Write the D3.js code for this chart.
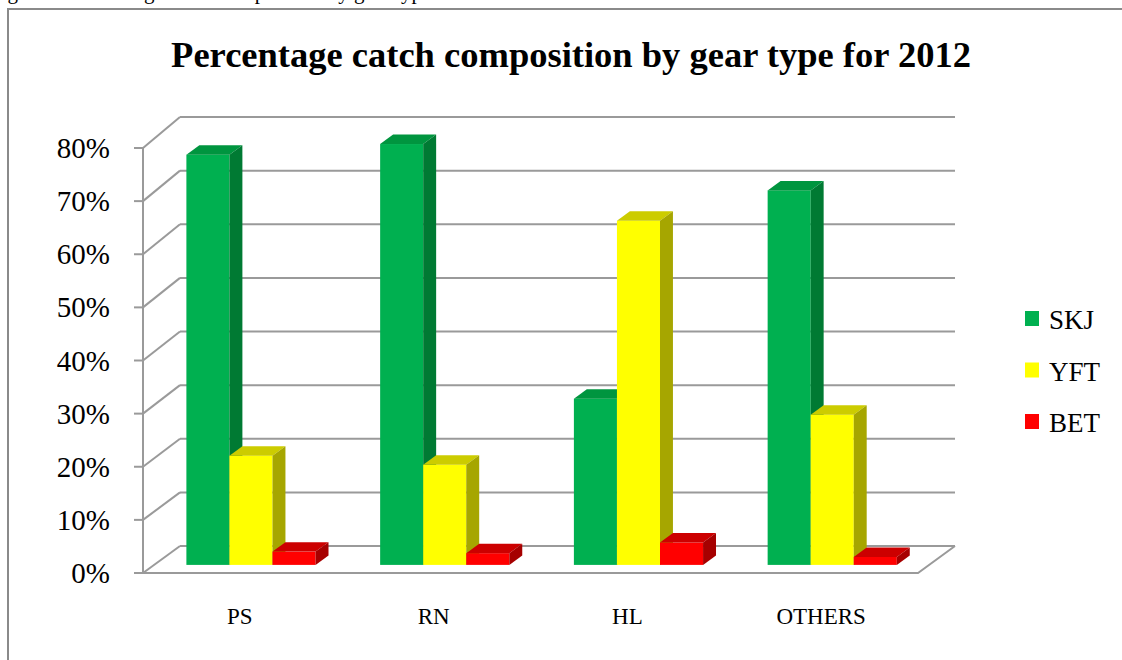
<!DOCTYPE html>
<html>
<head>
<meta charset="utf-8">
<script src="https://cdn.jsdelivr.net/npm/d3@7"></script>
<style>
  body { margin: 0; background: #fff; }
  svg { display: block; }
</style>
</head>
<body>
<div id="chart"></div>
<script>
// data
const categories = ["PS", "RN", "HL", "OTHERS"];
const seriesNames = ["SKJ", "YFT", "BET"];
const skj = [0.77, 0.79, 0.312, 0.703];
const yft = [0.205, 0.188, 0.646, 0.282];
const bet = [0.025, 0.022, 0.042, 0.015];
const yTicks = [0, 0.1, 0.2, 0.3, 0.4, 0.5, 0.6, 0.7, 0.8];
const titleText = "Percentage catch composition by gear type for 2012";

const seriesValues = [skj, yft, bet];
const faceColors = {
  SKJ: { front: "#00b050", top: "#00953f", side: "#007a33" },
  YFT: { front: "#ffff00", top: "#cccc00", side: "#a6a600" },
  BET: { front: "#ff0000", top: "#cc0000", side: "#a60000" }
};

const width = 1122, height = 660;
// 3D box geometry
const left = 143, right = 918;
const wallDx = 37;
const barZ = 0.3, barDepth = 0.35;
const serif = "'Liberation Serif', 'Times New Roman', serif";

const svg = d3.select("#chart").append("svg")
  .attr("width", width)
  .attr("height", height);

// caption from the page above, cut off in the reference too
svg.append("text")
  .attr("x", -10).attr("y", -1)
  .style("font-family", serif)
  .style("font-size", "21px")
  .text("Figure 5: Percentage catch composition by gear type");

// outer frame
svg.append("rect")
  .attr("x", 8).attr("y", 9)
  .attr("width", 1130).attr("height", 670)
  .attr("fill", "none")
  .attr("stroke", "#8a8a8a")
  .attr("stroke-width", 2);

svg.append("text")
  .attr("x", 571).attr("y", 67)
  .attr("text-anchor", "middle")
  .style("font-family", serif)
  .style("font-weight", "bold")
  .style("font-size", "36.5px")
  .text(titleText);

const yFront = d3.scaleLinear().domain([0, 0.8]).range([573, 148]);
const yBack = d3.scaleLinear().domain([0, 0.8]).range([546, 117]);
const yAt = (v, z) => yFront(v) + z * (yBack(v) - yFront(v));

const x0 = d3.scaleBand().domain(categories).range([left, right]);
const barW = x0.bandwidth() / 4.5;
const x1 = d3.scaleBand().domain(seriesNames).range([0, barW * 3]);

const grid = svg.append("g")
  .attr("stroke", "#9a9a9a")
  .attr("stroke-width", 2)
  .attr("fill", "none");

// back wall lines
grid.selectAll("line.back")
  .data(yTicks)
  .enter()
  .append("line")
  .attr("x1", left + wallDx)
  .attr("x2", right + wallDx)
  .attr("y1", d => yBack(d))
  .attr("y2", d => yBack(d));

// side wall lines
grid.selectAll("line.side")
  .data(yTicks)
  .enter()
  .append("line")
  .attr("x1", left)
  .attr("x2", left + wallDx)
  .attr("y1", d => yFront(d))
  .attr("y2", d => yBack(d));

// floor front and right edge
grid.append("path")
  .attr("d", `M${left},${yFront(0)}L${right},${yFront(0)}L${right + wallDx},${yBack(0)}`);

// vertical axis + ticks
grid.append("line")
  .attr("x1", left).attr("x2", left)
  .attr("y1", yFront(0.8)).attr("y2", yFront(0));

grid.selectAll("line.tick")
  .data(yTicks)
  .enter()
  .append("line")
  .attr("x1", left - 9).attr("x2", left)
  .attr("y1", d => yFront(d)).attr("y2", d => yFront(d));

svg.append("g")
  .selectAll("text")
  .data(yTicks)
  .enter()
  .append("text")
  .attr("x", 110)
  .attr("y", d => yFront(d) + 10)
  .attr("text-anchor", "end")
  .style("font-family", serif)
  .style("font-size", "29px")
  .text(d => d3.format(".0%")(d));

// category labels
svg.append("g")
  .selectAll("text")
  .data(categories)
  .enter()
  .append("text")
  .attr("x", d => x0(d) + x0.bandwidth() / 2)
  .attr("y", 624)
  .attr("text-anchor", "middle")
  .style("font-family", serif)
  .style("font-size", "23px")
  .text(d => d);

// bars
const shiftX = wallDx * barZ;
const depthDx = wallDx * barDepth;
const depthDy = (yBack(0) - yFront(0)) * barDepth;
const bars = [];
categories.forEach((c, i) => {
  seriesNames.forEach((s, j) => {
    bars.push({ cat: c, series: s, value: seriesValues[j][i] });
  });
});

const barG = svg.append("g")
  .selectAll("g")
  .data(bars)
  .enter()
  .append("g");

function geom(b) {
  const x = x0(b.cat) + barW * 0.75 + x1(b.series) + shiftX;
  const yT = yAt(b.value, barZ);
  const yB = yAt(0, barZ);
  return { x, yT, yB, w: x1.bandwidth() };
}

barG.append("rect")
  .attr("x", b => geom(b).x)
  .attr("y", b => geom(b).yT)
  .attr("width", b => geom(b).w)
  .attr("height", b => geom(b).yB - geom(b).yT)
  .attr("fill", b => faceColors[b.series].front);

barG.append("path")
  .attr("fill", b => faceColors[b.series].top)
  .attr("d", b => {
    const g = geom(b);
    return `M${g.x},${g.yT}L${g.x + depthDx},${g.yT + depthDy}L${g.x + g.w + depthDx},${g.yT + depthDy}L${g.x + g.w},${g.yT}Z`;
  });

barG.append("path")
  .attr("fill", b => faceColors[b.series].side)
  .attr("d", b => {
    const g = geom(b);
    return `M${g.x + g.w},${g.yT}L${g.x + g.w + depthDx},${g.yT + depthDy}L${g.x + g.w + depthDx},${g.yB + depthDy}L${g.x + g.w},${g.yB}Z`;
  });

// legend
const legend = svg.append("g")
  .selectAll("g")
  .data(seriesNames)
  .enter()
  .append("g")
  .attr("transform", (d, i) => "translate(1025," + (311 + i * 51.5) + ")");

legend.append("rect")
  .attr("width", 14).attr("height", 15)
  .attr("fill", d => faceColors[d].front);

legend.append("text")
  .attr("x", 24).attr("y", 18)
  .style("font-family", serif)
  .style("font-size", "27px")
  .text(d => d);
</script>
</body>
</html>
